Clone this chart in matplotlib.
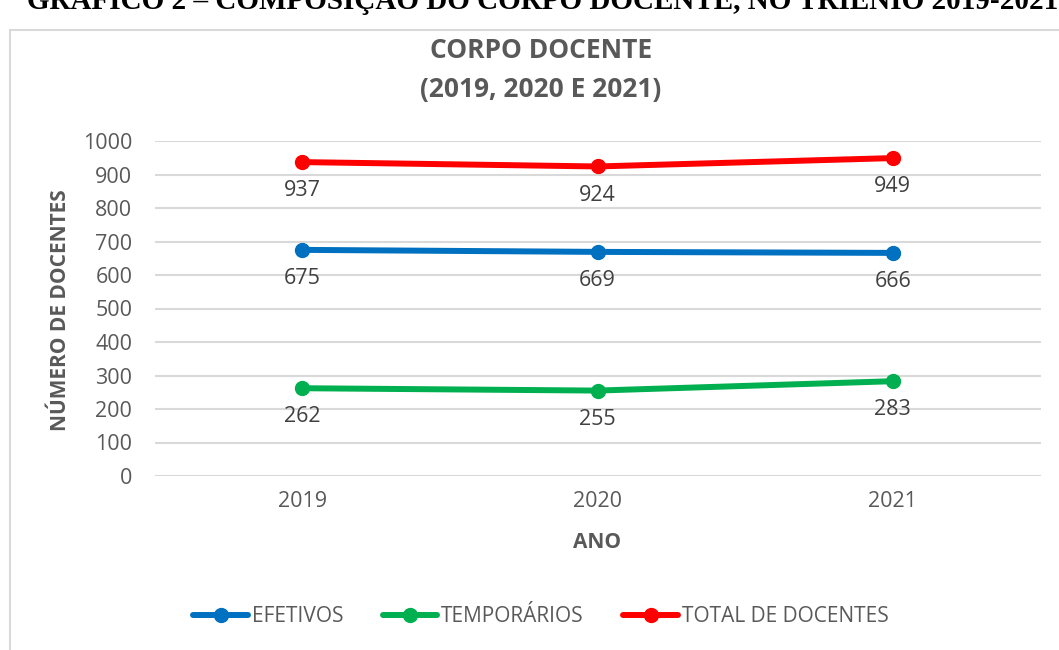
import matplotlib
matplotlib.use("Agg")
import matplotlib.pyplot as plt
from matplotlib.patches import Rectangle

years = ["2019", "2020", "2021"]
efetivos = [675, 669, 666]
temporarios = [262, 255, 283]
total = [937, 924, 949]
series_names = ["EFETIVOS", "TEMPORÁRIOS", "TOTAL DE DOCENTES"]
series_colors = ["#0070C0", "#00B050", "#FF0000"]
yticks = [0, 100, 200, 300, 400, 500, 600, 700, 800, 900, 1000]

plt.rcParams['font.family'] = ['Open Sans', 'DejaVu Sans']
gray = "#595959"
dark = "#404040"

fig = plt.figure(figsize=(10.59, 6.5), dpi=100)
W, H = 1059, 650

# frame around chart
fig.patches.append(Rectangle((10 / W, -0.1), 1.2, (650 - 30) / H + 0.1,
                             transform=fig.transFigure, fill=False,
                             edgecolor="#d9d9d9", linewidth=1.5))

# clipped heading at top (as in the reference)
fig.text(27 / W, 1 - 9 / H, "GRÁFICO 2 – COMPOSIÇÃO DO CORPO DOCENTE, NO TRIÊNIO 2019-2021",
         family=['Liberation Serif', 'DejaVu Serif'], fontweight='bold', fontsize=21,
         ha='left', va='baseline', color='black')

ax = fig.add_axes([154.5 / W, 1 - 476 / H, (1040.5 - 154.5) / W, (476 - 141) / H])
x = list(range(len(years)))
for vals, name, col in zip([efetivos, temporarios, total], series_names, series_colors):
    ax.plot(x, vals, color=col, linewidth=4.3, marker='o', markersize=10,
            label=name, solid_capstyle='round', zorder=3)
    for xi, v in zip(x, vals):
        ax.annotate(str(v), (xi, v), xytext=(0, -13), textcoords='offset points',
                    ha='center', va='top', fontsize=15.5, color=dark)

ax.set_xlim(-0.5, 2.5)
ax.set_ylim(0, 1000)
ax.set_yticks(yticks)
ax.set_yticklabels([str(t) for t in yticks])
ax.set_xticks(x)
ax.set_xticklabels(years)
ax.tick_params(axis='both', length=0, labelsize=15.5, labelcolor=gray)
ax.tick_params(axis='y', pad=16)
ax.tick_params(axis='x', pad=11)
ax.grid(axis='y', color='#d9d9d9', linewidth=1.5)
ax.set_axisbelow(True)
for s in ax.spines.values():
    s.set_visible(False)

ax.set_xlabel("ANO", fontsize=15, fontweight='bold', color=gray, labelpad=14)
fig.text(60 / W, 1 - 310 / H, "NÚMERO DE DOCENTES", rotation=90, fontsize=15,
         fontweight='bold', color=gray, ha='center', va='center')

fig.text(541 / W, 1 - 50 / H, "CORPO DOCENTE", fontsize=19, fontweight='bold',
         color=gray, ha='center', va='center')
fig.text(541 / W, 1 - 90 / H, "(2019, 2020 E 2021)", fontsize=19, fontweight='bold',
         color=gray, ha='center', va='center')

leg = fig.legend(loc='center', bbox_to_anchor=(541 / W, 1 - 617 / H), ncol=3,
                 frameon=False, handlelength=2.6, handletextpad=0.2,
                 columnspacing=1.9, labelcolor=gray,
                 prop={'family': ['Liberation Sans Narrow', 'Open Sans', 'DejaVu Sans'], 'size': 15})

fig.savefig("out.png", dpi=100)
